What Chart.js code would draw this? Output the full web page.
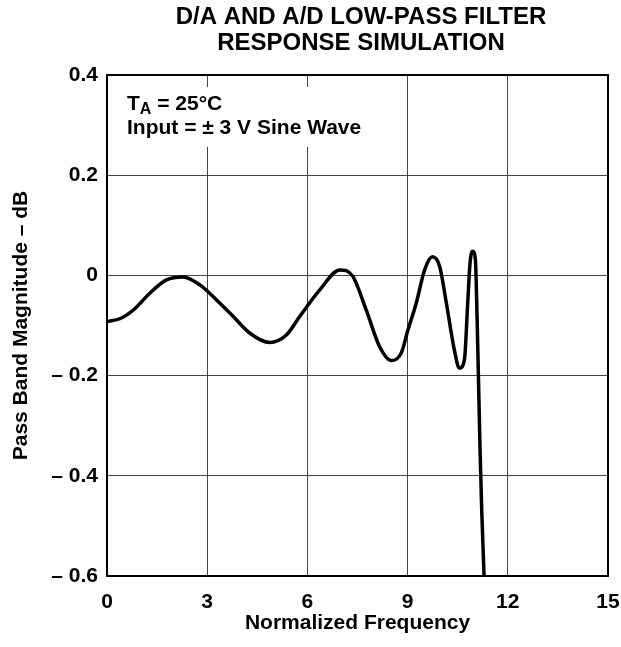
<!DOCTYPE html>
<html>
<head>
<meta charset="utf-8">
<script src="https://cdn.jsdelivr.net/npm/chart.js@4"></script>
<style>
  body { margin: 0; background: #fff; }
  canvas { display: block; }
</style>
</head>
<body>
<canvas id="myChart" width="621" height="647"></canvas>
<script>
// curve (normalized frequency vs dB)
const freq = [0, 0.4, 0.79, 1.29, 1.78, 2.28, 2.78, 3.28, 3.78, 4.27, 4.87, 5.37, 5.77, 6.37, 6.97,
  7.36, 7.76, 8.16, 8.51, 8.81, 9.01, 9.26, 9.51, 9.74, 9.96, 10.16, 10.40, 10.55, 10.70, 10.80,
  10.87, 10.95, 11.03, 11.07, 11.12, 11.17, 11.22, 11.29];
const magnitude = [-0.092, -0.086, -0.069, -0.035, -0.009, -0.003, -0.019, -0.049, -0.082, -0.115, -0.134,
  -0.119, -0.082, -0.029, 0.011, -0.002, -0.069, -0.142, -0.170, -0.155, -0.109, -0.055, 0.011, 0.037,
  0.018, -0.055, -0.149, -0.185, -0.169, -0.055, 0.025, 0.048, 0.031, -0.055, -0.20, -0.35, -0.47, -0.60];

const xTicks = [0, 3, 6, 9, 12, 15];
const xTickLabels = ["0", "3", "6", "9", "12", "15"];
const yTicks = [-0.6, -0.4, -0.2, 0, 0.2, 0.4];
const yTickLabels = ["\u2013 0.6", "\u2013 0.4", "\u2013 0.2", "0", "0.2", "0.4"];

const titleLines = ["D/A AND A/D LOW-PASS FILTER", "RESPONSE SIMULATION"];
const noteLine2 = "Input = \u00b1 3 V Sine Wave";

const FONT = "'Liberation Sans', Arial, sans-serif";
Chart.defaults.font.family = FONT;
Chart.defaults.color = "#000";

const frame = {
  id: "frame",
  beforeDatasetsDraw(chart) {
    const { ctx, chartArea: a } = chart;
    // white box behind the note, hides the grid lines there
    ctx.save();
    ctx.fillStyle = "#fff";
    ctx.fillRect(a.left + 1, 87, 268, 60);
    ctx.restore();
  },
  afterDraw(chart) {
    const { ctx, chartArea: a } = chart;
    ctx.save();
    ctx.strokeStyle = "#000";
    ctx.lineWidth = 2;
    ctx.strokeRect(a.left, a.top, a.right - a.left, a.bottom - a.top);

    ctx.fillStyle = "#000";
    ctx.textAlign = "center";
    ctx.textBaseline = "alphabetic";
    ctx.font = "bold 24px " + FONT;
    ctx.fillText(titleLines[0], 361, 24);
    ctx.fillText(titleLines[1], 361, 50);

    // note: T with subscript A
    ctx.textAlign = "left";
    ctx.font = "bold 21px " + FONT;
    let x = 127;
    ctx.fillText("T", x, 110);
    x += ctx.measureText("T").width;
    ctx.font = "bold 16px " + FONT;
    ctx.fillText("A", x, 114);
    x += ctx.measureText("A").width;
    ctx.font = "bold 21px " + FONT;
    ctx.fillText(" = 25\u00b0C", x, 110);
    ctx.fillText(noteLine2, 127, 134);
    ctx.restore();
  }
};

const config = {
  type: "line",
  data: {
    datasets: [{
      data: freq.map((f, i) => ({ x: f, y: magnitude[i] })),
      borderColor: "#000",
      borderWidth: 3.5,
      pointRadius: 0,
      fill: false,
      cubicInterpolationMode: "monotone"
    }]
  },
  options: {
    responsive: false,
    animation: false,
    layout: { padding: { left: 0, right: 13, top: 75, bottom: 0 } },
    plugins: { legend: { display: false }, tooltip: { enabled: false } },
    scales: {
      x: {
        type: "linear",
        min: 0,
        max: 15,
        afterFit: (s) => { s.height = 71; s.paddingLeft = 0; s.paddingRight = 0; },
        afterBuildTicks: (s) => { s.ticks = xTicks.map(v => ({ value: v })); },
        grid: { color: "#444", lineWidth: 1, drawTicks: false },
        border: { display: false },
        ticks: {
          padding: 14,
          maxRotation: 0,
          font: { size: 21, weight: "bold" },
          callback: (v, i) => xTickLabels[i]
        },
        title: {
          display: true,
          text: "Normalized Frequency",
          font: { size: 21, weight: "bold" },
          padding: { top: 0, bottom: 11 }
        }
      },
      y: {
        type: "linear",
        min: -0.6,
        max: 0.4,
        afterFit: (s) => { s.width = 107; s.paddingTop = 0; s.paddingBottom = 0; },
        afterBuildTicks: (s) => { s.ticks = yTicks.map(v => ({ value: v })); },
        grid: { color: "#444", lineWidth: 1, drawTicks: false },
        border: { display: false },
        ticks: {
          padding: 9,
          font: { size: 21, weight: "bold" },
          callback: (v, i) => yTickLabels[i]
        },
        title: {
          display: true,
          text: "Pass Band Magnitude \u2013 dB",
          font: { size: 21, weight: "bold" },
          padding: { top: 9, bottom: 0 }
        }
      }
    }
  },
  plugins: [frame]
};

const ctx = document.getElementById("myChart").getContext("2d");
const myChart = new Chart(ctx, config);
</script>
</body>
</html>
